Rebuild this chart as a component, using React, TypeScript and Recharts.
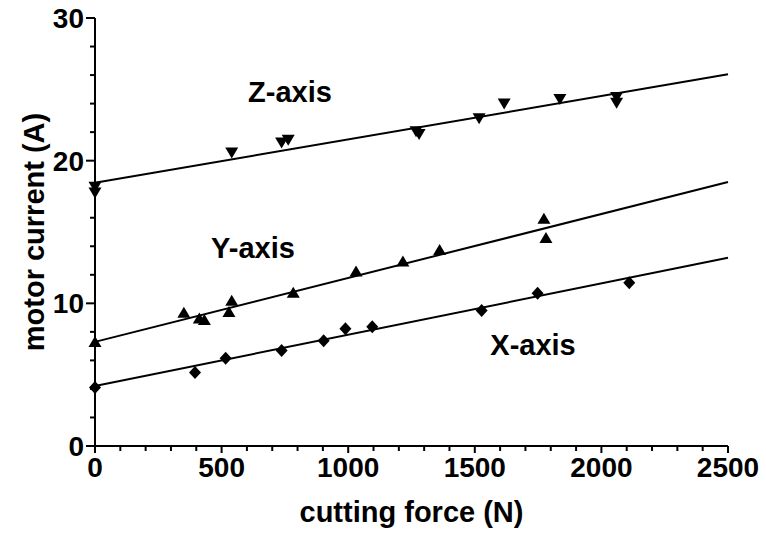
import {
  ScatterChart,
  Scatter,
  XAxis,
  YAxis,
  ReferenceLine,
  ReferenceDot,
} from 'recharts'

// cutting force (N) vs motor current (A)
const zForce = [0, 0, 540, 737, 763, 1268, 1280, 1517, 1616, 1836, 2060, 2060]
const zCurrent = [18.2, 17.8, 20.6, 21.3, 21.5, 22.1, 21.9, 23.0, 24.05, 24.35, 24.5, 24.1]

const yForce = [0, 351, 412, 432, 529, 540, 783, 1031, 1216, 1361, 1773, 1781]
const yCurrent = [7.25, 9.3, 8.9, 8.8, 9.35, 10.15, 10.7, 12.2, 12.9, 13.7, 15.9, 14.55]

const xForce = [0, 395, 516, 737, 903, 989, 1095, 1527, 1748, 2110]
const xCurrent = [4.1, 5.15, 6.15, 6.7, 7.37, 8.22, 8.35, 9.5, 10.7, 11.45]

// linear fit end points (force 0 and 2500)
const fitEnds = [0, 2500]
const zFit = [18.45, 26.05]
const yFit = [7.3, 18.5]
const xFit = [4.2, 13.2]

const forceTicks = [
  0, 100, 200, 300, 400, 500, 600, 700, 800, 900, 1000, 1100, 1200, 1300, 1400,
  1500, 1600, 1700, 1800, 1900, 2000, 2100, 2200, 2300, 2400, 2500,
]
const forceMajor = [0, 500, 1000, 1500, 2000, 2500]
const currentTicks = [0, 2, 4, 6, 8, 10, 12, 14, 16, 18, 20, 22, 24, 26, 28, 30]
const currentMajor = [0, 10, 20, 30]

const seriesLabels = [
  { text: 'Z-axis', force: 770, current: 24.8 },
  { text: 'Y-axis', force: 624, current: 13.9 },
  { text: 'X-axis', force: 1730, current: 7.1 },
]

const toPoints = (xs: number[], ys: number[]) => xs.map((x, i) => ({ x, y: ys[i] }))

const FONT = '"Liberation Sans", Arial, sans-serif'
const INK = '#000'

const BottomTick = (props: any) => {
  const { x, y, payload } = props
  const major = forceMajor.includes(payload.value)
  return (
    <g>
      <line x1={x} x2={x} y1={y} y2={y + (major ? 7 : 5)} stroke={INK} strokeWidth={2} />
      {major && (
        <text x={x} y={y + 31} textAnchor="middle" fontSize={28} fontWeight={700} fontFamily={FONT} fill={INK}>
          {payload.value}
        </text>
      )}
    </g>
  )
}

const TopTick = (props: any) => {
  const { x, y, payload } = props
  const major = forceMajor.includes(payload.value)
  return <line x1={x} x2={x} y1={y} y2={y + (major ? 6 : 4)} stroke={INK} strokeWidth={2} />
}

const LeftTick = (props: any) => {
  const { x, y, payload } = props
  const major = currentMajor.includes(payload.value)
  return (
    <g>
      <line x1={x - (major ? 9 : 5)} x2={x} y1={y} y2={y} stroke={INK} strokeWidth={2} />
      {major && (
        <text x={x - 11} y={y + 10} textAnchor="end" fontSize={28} fontWeight={700} fontFamily={FONT} fill={INK}>
          {payload.value}
        </text>
      )}
    </g>
  )
}

const RightTick = (props: any) => {
  const { x, y } = props
  return <line x1={x - 5} x2={x} y1={y} y2={y} stroke={INK} strokeWidth={2} />
}

const DownTriangle = (props: any) => {
  const { cx, cy } = props
  return <path d={`M${cx - 6.5},${cy - 4.5} L${cx + 6.5},${cy - 4.5} L${cx},${cy + 6.5} Z`} fill={INK} />
}

const UpTriangle = (props: any) => {
  const { cx, cy } = props
  return <path d={`M${cx - 6.5},${cy + 4.5} L${cx + 6.5},${cy + 4.5} L${cx},${cy - 6.5} Z`} fill={INK} />
}

const Diamond = (props: any) => {
  const { cx, cy } = props
  return <path d={`M${cx},${cy - 6.5} L${cx + 6},${cy} L${cx},${cy + 6.5} L${cx - 6},${cy} Z`} fill={INK} />
}

const XTitle = (props: any) => {
  const { viewBox } = props
  return (
    <text x={viewBox.x + viewBox.width / 2} y={522} textAnchor="middle" fontSize={29} fontWeight={700} fontFamily={FONT} fill={INK}>
      cutting force (N)
    </text>
  )
}

const YTitle = (props: any) => {
  const { viewBox } = props
  const cy = viewBox.y + viewBox.height / 2
  return (
    <text x={44} y={cy} transform={`rotate(-90 44 ${cy})`} textAnchor="middle" fontSize={29} fontWeight={700} fontFamily={FONT} fill={INK}>
      motor current (A)
    </text>
  )
}

export default function App() {
  return (
    <div style={{ position: 'absolute', left: 0, top: 0, background: '#fff', fontFamily: FONT }}>
      <ScatterChart width={766} height={545} margin={{ top: 18, right: 38, bottom: 0, left: 0 }}>
        <XAxis
          xAxisId="bottom"
          type="number"
          dataKey="x"
          domain={[0, 2500]}
          ticks={forceTicks}
          interval={0}
          tickSize={0}
          tickMargin={0}
          tick={<BottomTick />}
          axisLine={{ stroke: INK, strokeWidth: 2 }}
          height={99}
          label={<XTitle />}
        />
        <XAxis
          xAxisId="top"
          orientation="top"
          type="number"
          domain={[0, 2500]}
          ticks={forceTicks}
          interval={0}
          tickSize={0}
          tickMargin={0}
          tick={<TopTick />}
          axisLine={{ stroke: INK, strokeWidth: 2 }}
          height={0}
        />
        <YAxis
          yAxisId="left"
          type="number"
          dataKey="y"
          domain={[0, 30]}
          ticks={currentTicks}
          interval={0}
          tickSize={0}
          tickMargin={0}
          tick={<LeftTick />}
          axisLine={{ stroke: INK, strokeWidth: 2 }}
          width={95}
          label={<YTitle />}
        />
        <YAxis
          yAxisId="right"
          orientation="right"
          type="number"
          domain={[0, 30]}
          ticks={currentTicks}
          interval={0}
          tickSize={0}
          tickMargin={0}
          tick={<RightTick />}
          axisLine={{ stroke: INK, strokeWidth: 2 }}
          width={0}
        />

        <ReferenceLine
          xAxisId="bottom"
          yAxisId="left"
          segment={[{ x: fitEnds[0], y: zFit[0] }, { x: fitEnds[1], y: zFit[1] }]}
          stroke={INK}
          strokeWidth={2}
        />
        <ReferenceLine
          xAxisId="bottom"
          yAxisId="left"
          segment={[{ x: fitEnds[0], y: yFit[0] }, { x: fitEnds[1], y: yFit[1] }]}
          stroke={INK}
          strokeWidth={2}
        />
        <ReferenceLine
          xAxisId="bottom"
          yAxisId="left"
          segment={[{ x: fitEnds[0], y: xFit[0] }, { x: fitEnds[1], y: xFit[1] }]}
          stroke={INK}
          strokeWidth={2}
        />

        <Scatter xAxisId="bottom" yAxisId="left" name="Z-axis" data={toPoints(zForce, zCurrent)} shape={<DownTriangle />} isAnimationActive={false} />
        <Scatter xAxisId="bottom" yAxisId="left" name="Y-axis" data={toPoints(yForce, yCurrent)} shape={<UpTriangle />} isAnimationActive={false} />
        <Scatter xAxisId="bottom" yAxisId="left" name="X-axis" data={toPoints(xForce, xCurrent)} shape={<Diamond />} isAnimationActive={false} />

        {seriesLabels.map((l) => (
          <ReferenceDot
            key={l.text}
            xAxisId="bottom"
            yAxisId="left"
            x={l.force}
            y={l.current}
            r={0}
            fill="none"
            stroke="none"
            label={{ value: l.text, position: 'center', fontSize: 29, fontWeight: 700, fill: INK, fontFamily: FONT }}
          />
        ))}
      </ScatterChart>
    </div>
  )
}
